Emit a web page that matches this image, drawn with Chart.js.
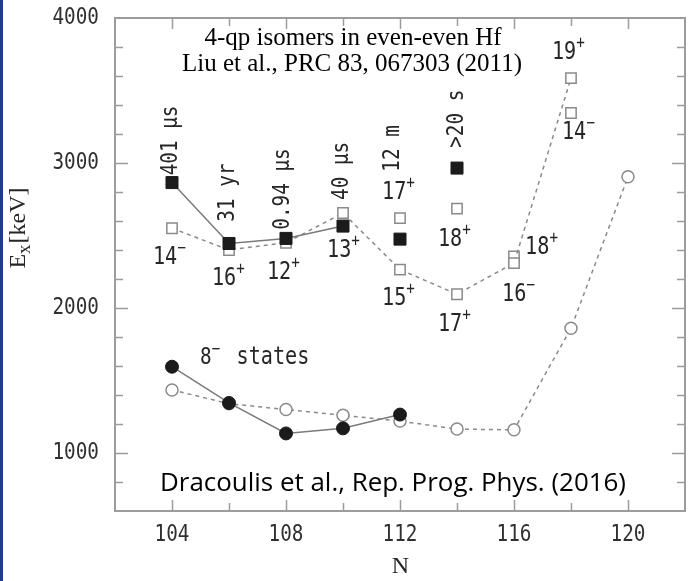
<!DOCTYPE html>
<html>
<head>
<meta charset="utf-8">
<title>4-qp isomers in even-even Hf</title>
<script src="https://cdn.jsdelivr.net/npm/chart.js@4.4.1/dist/chart.umd.min.js"></script>
<style>
  html, body { margin: 0; padding: 0; background: #fff; }
  #wrap { position: relative; width: 698px; height: 581px; }
  #edge { position: absolute; left: 0; top: 0; width: 3px; height: 581px; background: #1d3c8c; }
</style>
</head>
<body>
<div id="wrap">
  <canvas id="myChart" width="698" height="581"></canvas>
  <div id="edge"></div>
</div>
<script>
// measured 4-qp isomers (filled squares, joined)
const isomerN = [104, 106, 108, 110];
const isomerE = [2865, 2445, 2480, 2565];
// measured isomers without a line
const isomerLoneN = [112, 114];
const isomerLoneE = [2475, 2965];
// calculated 4-qp states (open squares, dashed)
const calcN = [104, 106, 108, 110, 112, 114, 116, 118];
const calcE = [2550, 2400, 2450, 2655, 2265, 2095, 2310, 3585];
// other calculated states without a line
const calcLoneN = [112, 114, 116, 118];
const calcLoneE = [2620, 2685, 2355, 3345];
// 8- states, measured and calculated
const octN = [104, 106, 108, 110, 112];
const octE = [1595, 1345, 1135, 1170, 1265];
const octCalcN = [104, 106, 108, 110, 112, 114, 116, 118, 120];
const octCalcE = [1435, 1340, 1300, 1260, 1220, 1165, 1160, 1860, 2905];

// half-lives written above the isomers
const halfLives = ["401 \u00b5s", "31 yr", "0.94 \u00b5s", "40 \u00b5s", "12 m", ">20 s"];
const halfLifeN = [103.95, 105.95, 107.9, 109.95, 111.75, 114];
const halfLifeE = [2915, 2595, 2540, 2745, 2940, 3105];

// K^pi labels: text, superscript, anchor (N, E) at left / middle of the digits
const spinText = ["14", "16", "12", "13", "17", "15", "18", "17", "18", "16", "19", "14"];
const spinSign = ["\u2212", "+", "+", "+", "+", "+", "+", "+", "+", "\u2212", "+", "\u2212"];
const spinN = [103.33, 105.4, 107.33, 109.44, 111.37, 111.37, 113.33, 113.33, 116.39, 115.58, 117.33, 117.68];
const spinE = [2345, 2200, 2241, 2393, 2793, 2062, 2469, 1883, 2414, 2090, 3759, 3207];

const zip = (ns, es) => ns.map((n, i) => ({ x: n, y: es[i] }));

const monoFont = '"DejaVu Sans Mono", monospace';
const ink = "#262626";
const squeeze = 0.84;

// narrow monospace text: draw with a horizontal squeeze, return drawn width
function narrowText(ctx, txt, x, y, size, align) {
  ctx.save();
  ctx.font = size + "px " + monoFont;
  const w = ctx.measureText(txt).width * squeeze;
  let x0 = x;
  if (align === "center") x0 = x - w / 2;
  if (align === "right") x0 = x - w;
  ctx.translate(x0, y);
  ctx.scale(squeeze, 1);
  ctx.textAlign = "left";
  ctx.fillText(txt, 0, 0);
  ctx.restore();
  return w;
}

const frameAndLabels = {
  id: "frameAndLabels",
  beforeDatasetsDraw(chart) {
    const { ctx, chartArea: a, scales } = chart;
    const x = scales.x, y = scales.y;
    ctx.save();
    ctx.strokeStyle = "#9c9c9c";
    ctx.lineWidth = 2;
    ctx.strokeRect(a.left, a.top, a.right - a.left, a.bottom - a.top);
    ctx.lineWidth = 1.5;
    ctx.beginPath();
    y.ticks.forEach((t) => {
      if (t.value <= y.min || t.value >= y.max) return;
      const py = Math.round(y.getPixelForValue(t.value)) + 0.5;
      const len = t.value % 1000 === 0 ? 13 : 8;
      ctx.moveTo(a.left, py);
      ctx.lineTo(a.left + len, py);
      ctx.moveTo(a.right, py);
      ctx.lineTo(a.right - len, py);
    });
    x.ticks.forEach((t) => {
      if (t.value <= x.min || t.value >= x.max) return;
      const px = Math.round(x.getPixelForValue(t.value)) + 0.5;
      const len = t.value % 4 === 0 ? 11 : 8;
      ctx.moveTo(px, a.bottom);
      ctx.lineTo(px, a.bottom - len);
      ctx.moveTo(px, a.top);
      ctx.lineTo(px, a.top + len);
    });
    ctx.stroke();

    // tick labels
    ctx.fillStyle = "#303030";
    ctx.textBaseline = "middle";
    y.ticks.forEach((t) => {
      if (t.value % 1000 !== 0) return;
      narrowText(ctx, String(t.value), a.left - 16, y.getPixelForValue(t.value), 23, "right");
    });
    x.ticks.forEach((t) => {
      if (t.value % 4 !== 0) return;
      narrowText(ctx, String(t.value), x.getPixelForValue(t.value), a.bottom + 24, 23, "center");
    });
    ctx.restore();
  },
  afterDatasetsDraw(chart) {
    const { ctx, chartArea: a, scales } = chart;
    const x = scales.x, y = scales.y;
    ctx.save();
    ctx.fillStyle = ink;
    ctx.textBaseline = "middle";

    // half-lives, rotated
    halfLives.forEach((txt, i) => {
      ctx.save();
      ctx.translate(x.getPixelForValue(halfLifeN[i]), y.getPixelForValue(halfLifeE[i]));
      ctx.rotate(-Math.PI / 2);
      narrowText(ctx, txt, 0, 0, 23, "left");
      ctx.restore();
    });

    // spin and parity labels
    spinText.forEach((txt, i) => {
      const px = x.getPixelForValue(spinN[i]);
      const py = y.getPixelForValue(spinE[i]);
      const w = narrowText(ctx, txt, px, py, 24, "left");
      narrowText(ctx, spinSign[i], px + w, py - 9, 17, "left");
    });

    // 8- states caption
    const cx = x.getPixelForValue(104.98);
    const cy = y.getPixelForValue(1655);
    const w8 = narrowText(ctx, "8", cx, cy, 23, "left");
    narrowText(ctx, "\u2212", cx + w8, cy - 8, 17, "left");
    narrowText(ctx, "states", cx + w8 + 25, cy, 24, "left");

    // axis titles
    ctx.textBaseline = "alphabetic";
    ctx.textAlign = "center";
    ctx.font = '24px "Liberation Serif", serif';
    ctx.fillText("N", (a.left + a.right) / 2 + 0.5, 573);

    ctx.save();
    ctx.translate(25, 228.5);
    ctx.rotate(-Math.PI / 2);
    ctx.textAlign = "left";
    ctx.font = '24px "Liberation Serif", serif';
    const wE = ctx.measureText("E").width;
    const wK = ctx.measureText("[keV]").width;
    ctx.font = '19px "Liberation Serif", serif';
    const wx = ctx.measureText("x").width;
    let tx = -(wE + wx + wK) / 2;
    ctx.font = '24px "Liberation Serif", serif';
    ctx.fillText("E", tx, 0);
    tx += wE;
    ctx.font = '19px "Liberation Serif", serif';
    ctx.fillText("x", tx, 5);
    tx += wx + 1;
    ctx.font = '24px "Liberation Serif", serif';
    ctx.fillText("[keV]", tx, 0);
    ctx.restore();

    // references
    ctx.fillStyle = "#000";
    ctx.textAlign = "center";
    ctx.font = '25px "Liberation Serif", serif';
    ctx.fillText("4-qp isomers in even-even Hf", 353, 45);
    ctx.fillText("Liu et al., PRC 83, 067303 (2011)", 352, 71);
    ctx.font = '26px "Open Sans", sans-serif';
    ctx.textAlign = "left";
    ctx.fillText("Dracoulis et al., Rep. Prog. Phys. (2016)", 160, 491, 466);
    ctx.restore();
  }
};

const filled = (style, r) => ({
  pointStyle: style,
  pointRadius: r,
  pointBackgroundColor: "#1b1b1b",
  pointBorderColor: "#1b1b1b",
  pointBorderWidth: 1,
  borderColor: "#7a7a7a",
  borderWidth: 1.5
});
const open = (style, r) => ({
  pointStyle: style,
  pointRadius: r,
  pointBackgroundColor: "#ffffff",
  pointBorderColor: "#8a8a8a",
  pointBorderWidth: 1.5,
  borderColor: "#8a8a8a",
  borderWidth: 1.5,
  borderDash: [4, 4]
});

const ctx = document.getElementById("myChart").getContext("2d");
const chart = new Chart(ctx, {
  type: "scatter",
  data: {
    datasets: [
      { label: "isomers", data: zip(isomerN, isomerE), showLine: true, ...filled("rect", 8.5) },
      { label: "isomers (single)", data: zip(isomerLoneN, isomerLoneE), showLine: false, ...filled("rect", 8.5) },
      { label: "8- states", data: zip(octN, octE), showLine: true, ...filled("circle", 6.5) },
      { label: "4-qp calc", data: zip(calcN, calcE), showLine: true, ...open("rect", 7.3) },
      { label: "4-qp calc (single)", data: zip(calcLoneN, calcLoneE), showLine: false, ...open("rect", 7.3) },
      { label: "8- calc", data: zip(octCalcN, octCalcE), showLine: true, ...open("circle", 6) }
    ]
  },
  options: {
    responsive: false,
    animation: false,
    layout: { padding: { top: 18, right: 13, left: 0, bottom: 0 } },
    plugins: {
      legend: { display: false },
      tooltip: { enabled: false }
    },
    scales: {
      x: {
        type: "linear",
        min: 102,
        max: 122,
        grid: { display: false, drawTicks: false },
        border: { display: false },
        ticks: { stepSize: 2, autoSkip: false, display: false },
        afterFit: (s) => { s.height = 70; }
      },
      y: {
        type: "linear",
        min: 600,
        max: 4000,
        grid: { display: false, drawTicks: false },
        border: { display: false },
        ticks: { stepSize: 200, autoSkip: false, display: false },
        afterFit: (s) => { s.width = 115; }
      }
    }
  },
  plugins: [frameAndLabels]
});
</script>
</body>
</html>
